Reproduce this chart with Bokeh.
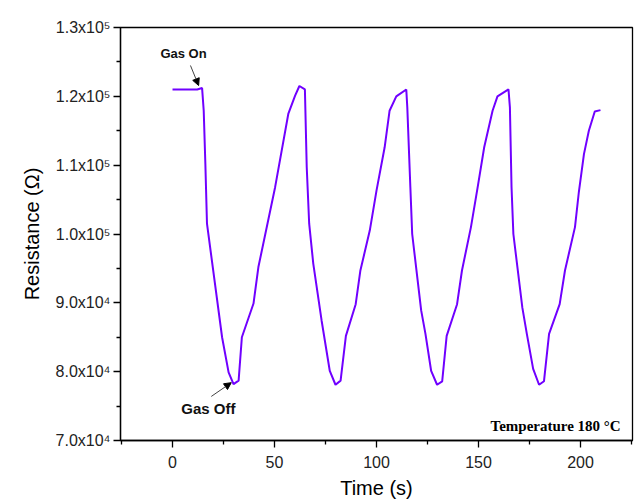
from bokeh.plotting import figure
from bokeh.models import Range1d, FixedTicker, Arrow, NormalHead, Label
from bokeh.embed import file_html
from bokeh.resources import INLINE

# ---- data ----
time_s = [0, 12.1, 14.5, 15.3, 16.1, 16.9, 24.3, 27.5, 29.9, 32.4, 34.0, 39.7, 42.1,
          50.3, 56.8, 60.1, 62.2, 64.9, 65.8, 67.0, 69.0, 73.1, 77.1, 79.9, 82.4,
          85.0, 89.8, 92.1, 96.7, 100.0, 104.0, 106.4, 109.7, 114.6, 115.1, 116.6,
          117.5, 121.9, 124.0, 126.8, 129.7, 132.2, 134.4, 139.5, 141.9, 146.3,
          149.6, 152.8, 156.9, 159.3, 164.7, 165.4, 166.2, 167.1, 171.5, 173.7,
          176.8, 179.7, 182.1, 184.6, 189.8, 192.4, 197.3, 199.2, 201.7, 204.1,
          207.0, 209.8]
resistance = [121000, 121000, 121200, 117900, 110200, 101500, 85000, 79900, 78200,
              78700, 85000, 89900, 95200, 106800, 117500, 120100, 121500, 121000,
              109700, 101500, 95700, 87400, 80100, 78100, 78700, 85200, 89800,
              94700, 100500, 106300, 112600, 117900, 120000, 121000, 118400,
              106800, 100000, 88900, 85500, 80100, 78100, 78600, 85200, 89800,
              94700, 101000, 106800, 112600, 117900, 120000, 121000, 118400,
              106800, 100000, 89300, 85500, 80400, 78100, 78600, 85500, 89800,
              94700, 101000, 106100, 111600, 115000, 117800, 118000]

x_ticks = [0, 50, 100, 150, 200]
x_minor = [-25, 25, 75, 125, 175, 225]
y_ticks = [70000, 80000, 90000, 100000, 110000, 120000, 130000]
y_minor = [75000, 85000, 95000, 105000, 115000, 125000]
y_labels = ["7.0x10\u2074", "8.0x10\u2074", "9.0x10\u2074", "1.0x10\u2075",
            "1.1x10\u2075", "1.2x10\u2075", "1.3x10\u2075"]

FONT = "Liberation Sans"

p = figure(width=637, height=502, output_backend="svg", toolbar_location=None,
           x_range=Range1d(-25.5, 225.5), y_range=Range1d(70000, 130000),
           min_border_left=120, min_border_right=5, min_border_top=27,
           min_border_bottom=62, background_fill_color="white",
           border_fill_color="white")
p.grid.visible = False
p.outline_line_color = "black"
p.outline_line_width = 1.3

p.line(time_s, resistance, line_color="#7000ff", line_width=2)

for ax in (p.xaxis[0], p.yaxis[0]):
    ax.axis_line_width = 1.3
    ax.major_tick_line_width = 1.3
    ax.minor_tick_line_width = 1.3
    ax.major_tick_out = 7
    ax.major_tick_in = 0
    ax.minor_tick_out = 4
    ax.minor_tick_in = 0
    ax.major_label_text_font = FONT
    ax.major_label_text_font_size = "16px"
    ax.major_label_text_color = "#222222"
    ax.axis_label_text_font = FONT
    ax.axis_label_text_font_size = "20px"
    ax.axis_label_text_font_style = "normal"
    ax.axis_label_text_color = "black"

p.xaxis.ticker = FixedTicker(ticks=x_ticks, minor_ticks=x_minor)
p.yaxis.ticker = FixedTicker(ticks=y_ticks, minor_ticks=y_minor)
p.yaxis.major_label_overrides = {t: s for t, s in zip(y_ticks, y_labels)}
p.xaxis.axis_label = "Time (s)"
p.yaxis.axis_label = "Resistance (\u03a9)"
p.xaxis.major_label_standoff = 8
p.xaxis.axis_label_standoff = 6
p.yaxis.major_label_standoff = 3
p.yaxis.axis_label_standoff = 10

# annotations
p.add_layout(Arrow(end=NormalHead(size=7, fill_color="black", line_color="black"),
                   x_start=8.8, y_start=124480, x_end=12.8, y_end=121570,
                   line_color="#444444", line_width=1))
p.add_layout(Arrow(end=NormalHead(size=7, fill_color="black", line_color="black"),
                   x_start=19.0, y_start=76400, x_end=28.8, y_end=78400,
                   line_color="#444444", line_width=1))
p.add_layout(Label(x=5.4, y=126180, text="Gas On", text_align="center",
                   text_baseline="middle", text_font=FONT, text_font_size="13px",
                   text_font_style="bold", text_color="#111111"))
p.add_layout(Label(x=17.6, y=74700, text="Gas Off", text_align="center",
                   text_baseline="middle", text_font=FONT, text_font_size="15px",
                   text_font_style="bold", text_color="#111111"))
p.add_layout(Label(x=219.7, y=72150, text="Temperature 180 \u00b0C", text_align="right",
                   text_baseline="middle", text_font="Liberation Serif",
                   text_font_size="15px", text_font_style="bold", text_color="black"))

open("out.html", "w").write(file_html(p, INLINE))
